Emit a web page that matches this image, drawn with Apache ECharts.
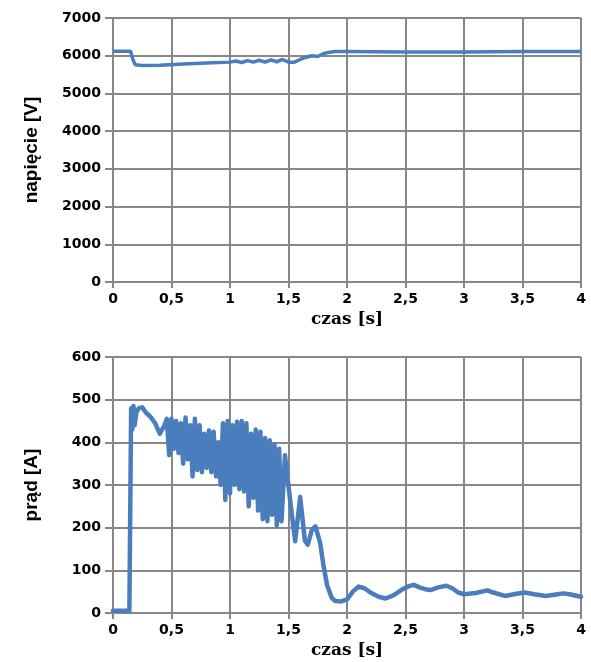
<!DOCTYPE html>
<html>
<head>
<meta charset="utf-8">
<script src="https://cdn.jsdelivr.net/npm/echarts@6/dist/echarts.min.js"></script>
<style>
html,body{margin:0;padding:0;background:#fff;}
#chart{width:591px;height:662px;}
</style>
</head>
<body>
<div id="chart"></div>
<script>
// ---- data ----
const xTicks = [0, 0.5, 1, 1.5, 2, 2.5, 3, 3.5, 4];
const voltageTime = [0, 0.15, 0.17, 0.19, 0.25, 0.4, 0.6, 0.8, 1.0, 1.05, 1.1, 1.15, 1.2, 1.25, 1.3, 1.35, 1.4, 1.45, 1.5, 1.55, 1.6, 1.65, 1.7, 1.75, 1.8, 1.85, 1.9, 2.0, 2.5, 3.0, 3.5, 4.0];
const voltageV = [6120, 6120, 5900, 5760, 5740, 5750, 5780, 5810, 5830, 5860, 5820, 5870, 5830, 5880, 5830, 5890, 5840, 5900, 5830, 5830, 5900, 5960, 6000, 5980, 6060, 6090, 6110, 6110, 6100, 6100, 6110, 6110];
const currentTime = [0, 0.14, 0.15, 0.155, 0.165, 0.175, 0.185, 0.2, 0.22, 0.25, 0.28, 0.32, 0.36, 0.4, 0.42,
  0.44, 0.46, 0.48, 0.50, 0.52, 0.54, 0.56, 0.58, 0.60, 0.62, 0.64, 0.66, 0.68, 0.70, 0.72, 0.74, 0.76, 0.78, 0.80,
  0.82, 0.84, 0.86, 0.88, 0.90, 0.92, 0.94, 0.96, 0.98, 1.00, 1.02, 1.04, 1.06, 1.08, 1.10, 1.12, 1.14, 1.16, 1.18,
  1.20, 1.22, 1.24, 1.26, 1.28, 1.30, 1.32, 1.34, 1.36, 1.38, 1.40, 1.42, 1.44,
  1.47, 1.52, 1.557, 1.6, 1.64, 1.665, 1.7, 1.73, 1.77, 1.8, 1.83, 1.87, 1.9, 1.95, 2.0, 2.05, 2.1, 2.15, 2.2, 2.27,
  2.33, 2.4, 2.47, 2.53, 2.57, 2.62, 2.68, 2.72, 2.78, 2.85, 2.9, 2.95, 3.0, 3.1, 3.2, 3.25, 3.35, 3.45, 3.52, 3.6,
  3.7, 3.8, 3.85, 3.9, 4.0];
const currentA = [5, 5, 5, 480, 430, 485, 440, 470, 480, 482, 470, 460, 445, 420, 430,
  440, 455, 370, 455, 385, 450, 375, 445, 350, 458, 360, 440, 320, 455, 335, 440, 330, 420, 340,
  428, 330, 425, 320, 400, 300, 445, 265, 450, 280, 440, 300, 448, 290, 450, 285, 445, 250, 420,
  270, 430, 240, 425, 220, 410, 215, 405, 230, 395, 205, 385, 215,
  370, 250, 168, 272, 170, 160, 195, 203, 165, 110, 65, 35, 28, 27, 32, 50, 62, 58, 48, 38,
  34, 42, 55, 63, 66, 60, 55, 54, 60, 64, 58, 48, 44, 47, 53, 48, 40, 45, 48, 44,
  40, 44, 46, 44, 38];
const yName1 = 'napięcie [V]';
const yName2 = 'prąd [A]';
const xName = 'czas [s]';

// ---- chart ----
const gridCol = '#878787';
const lineCol = '#4a7dbd';
const tickFont = {fontFamily: 'DejaVu Sans', fontWeight: 'bold', fontSize: 14, color: '#000'};
const fmtX = v => String(v).replace('.', ',');
const fmtY = v => String(v);

function xAxisCfg(gi) {
  return {
    type: 'value', gridIndex: gi, min: 0, max: 4, interval: 0.5,
    name: xName, nameLocation: 'middle', nameGap: 29,
    nameTextStyle: {fontFamily: 'DejaVu Serif', fontWeight: 'bold', fontSize: 17, color: '#000'},
    axisLine: {show: true, lineStyle: {color: gridCol, width: 2}},
    axisTick: {show: true, length: 6, lineStyle: {color: gridCol, width: 2}},
    splitLine: {show: true, lineStyle: {color: gridCol, width: 2}},
    axisLabel: Object.assign({margin: 10, formatter: fmtX}, tickFont)
  };
}
function yAxisCfg(gi, max, interval, name) {
  return {
    type: 'value', gridIndex: gi, min: 0, max: max, interval: interval,
    name: name, nameLocation: 'middle', nameGap: 72, nameRotate: 90,
    nameTextStyle: {fontFamily: 'Liberation Sans Narrow, Liberation Sans', fontWeight: 'bold', fontSize: 19, color: '#000'},
    axisLine: {show: true, lineStyle: {color: gridCol, width: 2}},
    axisTick: {show: true, length: 8, lineStyle: {color: gridCol, width: 2}},
    splitLine: {show: true, lineStyle: {color: gridCol, width: 2}},
    axisLabel: Object.assign({margin: 12, formatter: fmtY}, tickFont)
  };
}

const chart = echarts.init(document.getElementById('chart'), null, {renderer: 'canvas'});
chart.setOption({
  animation: false,
  backgroundColor: '#fff',
  grid: [
    {left: 113, top: 18, width: 468, height: 264},
    {left: 113, top: 357, width: 468, height: 256}
  ],
  xAxis: [xAxisCfg(0), xAxisCfg(1)],
  yAxis: [yAxisCfg(0, 7000, 1000, yName1), yAxisCfg(1, 600, 100, yName2)],
  series: [
    {type: 'line', xAxisIndex: 0, yAxisIndex: 0, showSymbol: false,
     lineStyle: {color: lineCol, width: 3.5}, itemStyle: {color: lineCol},
     data: voltageTime.map((t, i) => [t, voltageV[i]])},
    {type: 'line', xAxisIndex: 1, yAxisIndex: 1, showSymbol: false,
     lineStyle: {color: lineCol, width: 4.5, join: 'round', cap: 'round'}, itemStyle: {color: lineCol},
     data: currentTime.map((t, i) => [t, currentA[i]])}
  ]
});
</script>
</body>
</html>
